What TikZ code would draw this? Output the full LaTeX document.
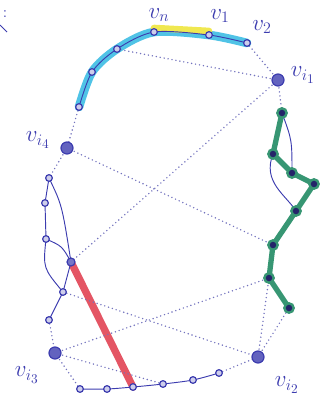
\documentclass[tikz,border=0pt]{standalone}
\definecolor{ink}{RGB}{60,60,175}
\definecolor{dotink}{RGB}{115,115,190}
\definecolor{hlc}{RGB}{80,195,230}
\definecolor{hly}{RGB}{240,232,80}
\definecolor{gpath}{RGB}{55,150,115}
\definecolor{rpath}{RGB}{228,85,100}
\tikzset{
  vtx/.style={circle, draw=ink, fill=ink!25, line width=0.9pt, inner sep=0pt, minimum size=5pt},
  bigvtx/.style={circle, draw=ink, fill=ink!80, line width=0.9pt, inner sep=0pt, minimum size=9pt},
  gvtx/.style={circle, draw=gpath, fill=ink!60!black, line width=1.8pt, inner sep=0pt, minimum size=7pt},
  nb/.style={ink, line width=0.7pt},
  dots/.style={dotink, line width=1.2pt, line cap=round, dash pattern=on 0pt off 3pt},
  lbl/.style={ink, font=\LARGE, inner sep=1pt}
}
\begin{document}
\begin{tikzpicture}[x=0.75pt, y=-0.75pt]
  \useasboundingbox (0,0) rectangle (326,405);
  % vertex positions
  \foreach \n/\x/\y in {a1/79/107, a2/92/72, a3/117/49, vn/154/32, v1/209/35, v2/247/43,
      vi1/278/80, g1/282/113, g2/273/154, g3/292/173, g4/314/184, g5/296/211,
      g6/273/245, g7/269/278, g8/289/308, vi2/258/357,
      b1/80/389, b2/107/389, b3/133/387, b4/163/384, b5/193/380, b6/219/373,
      vi3/55/353, l1/49/320, l2/63/292, l3/71/262, l4/46/239, l5/45/203, l6/49/178,
      vi4/67/148}
    \coordinate (\n) at (\x,\y);
  % highlighted pieces
  \draw[hlc, line width=6.5pt, line cap=round] plot[smooth] coordinates {(a1) (a2) (a3) (vn) (v1) (v2)};
  \draw[hly, line width=5pt, line cap=round] ([yshift=3pt]vn) -- ([yshift=3pt]v1);
  \draw[rpath, line width=5.5pt, line cap=round] (l3) -- (b3);
  \draw[gpath, line width=4pt, line cap=round, line join=round]
    (g1) -- (g2) -- (g3) -- (g4) -- (g5) -- (g6) -- (g7) -- (g8);
  % dotted edges
  \foreach \a/\b in {v2/vi1, a3/vi1, vi1/g1, vi1/l3, a1/vi4, vi4/l6, vi4/g6,
      l1/vi3, vi3/b1, vi3/g7, vi3/b4, l2/vi2, b6/vi2, vi2/g7, vi2/g8}
    \draw[dots] (\a) -- (\b);
  % solid edges
  \draw[nb] plot[smooth] coordinates {(a1) (a2) (a3) (vn) (v1) (v2)};
  \draw[nb] (l6) -- (l5) -- (l4);
  \draw[nb] (l4) .. controls (43,268) .. (l2);
  \draw[nb] (l4) .. controls (62,246) .. (l3);
  \draw[nb] (l6) .. controls (62,205) .. (l3);
  \draw[nb] (l3) -- (l2) -- (l1);
  \draw[nb] plot[smooth] coordinates {(b1) (b2) (b3) (b4) (b5) (b6)};
  \draw[nb] (g1) .. controls (292,140) .. (g3);
  \draw[nb] (g2) .. controls (262,182) and (286,195) .. (g5);
  % vertices
  \foreach \n in {a1, a2, a3, vn, v1, v2, l1, l2, l4, l5, l6, b1, b2, b3, b4, b5, b6}
    \node[vtx] (n\n) at (\n) {};
  \node[vtx, fill=ink!70, minimum size=6pt] (nl3) at (l3) {};
  \foreach \n in {vi1, vi2, vi3, vi4}
    \node[bigvtx] (n\n) at (\n) {};
  \foreach \n in {g1, g2, g3, g4, g5, g6, g7, g8}
    \node[gvtx] (n\n) at (\n) {};
  % labels
  \node[lbl] (lvn) at (159,15) {$v_n$};
  \node[lbl] (lv1) at (220,16) {$v_1$};
  \node[lbl] (lv2) at (262,27) {$v_2$};
  \node[lbl] (lvi1) at (303,75) {$v_{i_1}$};
  \node[lbl] (lvi4) at (38,140) {$v_{i_4}$};
  \node[lbl] (lvi3) at (27,375) {$v_{i_3}$};
  \node[lbl] (lvi2) at (287,385) {$v_{i_2}$};
  \node[lbl, font=\large] (colon) at (5,14) {:};
  \draw[nb] (0,25) -- (7,32);
\end{tikzpicture}
\end{document}
